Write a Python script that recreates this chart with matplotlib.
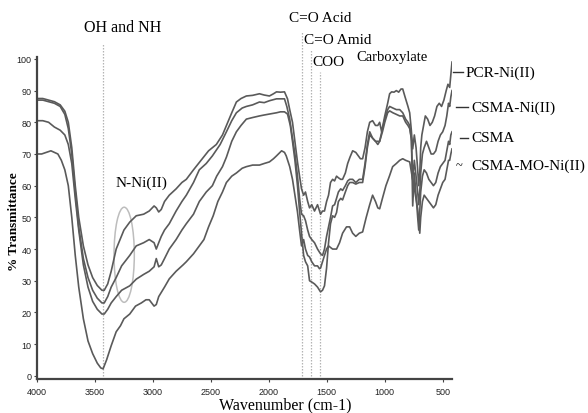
#!/usr/bin/env python3
"""
FTIR spectra of CSMA and its Ni(II) complexes, redrawn from the reference figure.
"""

import matplotlib
matplotlib.use("Agg")
import matplotlib.pyplot as plt
from matplotlib.patches import Ellipse

# --- Data --------------------------------------------------------------------

PCR_WN = [4000, 3950, 3900, 3850, 3800, 3760, 3730, 3700, 3670, 3640, 3600, 3560, 3520, 3480,
          3440, 3420, 3390, 3360, 3317, 3250, 3200, 3144, 3080, 3032, 2990, 2971, 2950, 2928,
          2900, 2859, 2800, 2750, 2712, 2650, 2574, 2520, 2487, 2453, 2400, 2366, 2320, 2280,
          2240, 2194, 2140, 2081, 2040, 1995, 1960, 1934, 1900, 1865, 1839, 1820, 1796, 1775,
          1753, 1735, 1718, 1700, 1684, 1665, 1649, 1630, 1606, 1580, 1563, 1554, 1537, 1520,
          1502, 1485, 1468, 1450, 1433, 1416, 1400, 1380, 1364, 1340, 1320, 1300, 1277, 1250,
          1230, 1210, 1191, 1170, 1150, 1130, 1105, 1080, 1060, 1044, 1027, 1000, 975, 958,
          941, 920, 900, 880, 860, 845, 825, 800, 785, 772, 759, 745, 730, 716, 707, 698, 690,
          680, 665, 650, 630, 610, 590, 570, 550, 530, 510, 490, 470, 455, 440, 430, 420]
PCR_T = [87.5, 87.5, 87, 86.5, 85.5, 83.5, 80, 72, 60, 50, 41, 35, 31, 28.5,
         27, 27, 29, 33, 40, 46, 48.5, 50.5, 51, 52, 53.6, 53, 51.7, 52.5,
         55, 57, 59, 61, 62, 65, 68.5, 71, 72, 73, 76, 79, 83, 86.4,
         87.5, 88.3, 88.5, 89, 88.6, 88.3, 89, 89.6, 89.5, 89.6, 87.4, 84, 80, 74,
         67.5, 63, 59, 57, 58, 55, 53, 54, 52, 54, 52, 51, 52, 52,
         55, 57, 61, 62, 61.5, 63, 62.5, 62, 62, 64, 67, 69, 71, 70.5,
         69.5, 68.5, 68.5, 72, 77, 80, 80.5, 79, 79, 80, 77, 82, 86, 89,
         89.6, 89.5, 90, 89.5, 90.5, 90.5, 88, 85, 83, 78, 71.6, 76, 72, 65, 60, 64, 72,
         76, 79, 82, 81, 79, 80, 82, 85, 86, 85, 87, 90, 92, 91, 95, 99]

CSMA_NI_WN = [4000, 3950, 3900, 3850, 3800, 3760, 3730, 3700, 3670, 3640, 3600, 3560, 3520,
              3480, 3440, 3420, 3390, 3360, 3317, 3270, 3200, 3144, 3080, 3032, 2990, 2971,
              2950, 2928, 2900, 2859, 2800, 2750, 2712, 2650, 2600, 2540, 2487, 2420, 2366,
              2320, 2280, 2230, 2194, 2140, 2081, 2040, 1995, 1934, 1900, 1865, 1845, 1820,
              1800, 1775, 1753, 1735, 1718, 1700, 1684, 1665, 1649, 1630, 1606, 1580, 1563,
              1554, 1537, 1520, 1502, 1485, 1468, 1450, 1433, 1416, 1400, 1380, 1364, 1340,
              1320, 1303, 1277, 1250, 1220, 1191, 1170, 1150, 1130, 1105, 1080, 1060, 1044,
              1020, 1000, 975, 958, 930, 900, 871, 845, 820, 800, 785, 770, 759, 745, 730,
              716, 707, 698, 690, 675, 660, 640, 620, 600, 580, 560, 540, 520, 500, 480, 465,
              450, 440, 430, 420]
CSMA_NI_T = [87, 87, 86.5, 86, 85, 82.5, 78, 70, 58, 47, 37, 31, 27,
             24.5, 23, 23, 25, 28, 31, 34.7, 38, 41, 42, 43, 42, 40,
             42, 44, 46, 48, 52, 55, 57, 61, 65, 67, 69.4, 73, 77,
             80.5, 83, 84.5, 85, 85.5, 86.4, 86.2, 86.8, 87.4, 87.4, 87.4, 85, 81,
             76, 70, 63, 56, 51, 50.5, 49, 46, 44, 43, 42, 40, 39,
             38.5, 38, 40, 44, 47, 50, 53.6, 54, 56, 58, 59, 58.5, 60,
             61.5, 62, 62, 61, 62, 62, 67, 73, 77, 75, 74, 73, 74,
             78, 81, 84, 85, 84.5, 84, 84, 83, 81, 80, 79, 74, 62, 68, 63,
             58, 54, 58, 64, 70, 72, 74, 72, 70, 70, 71, 74, 76, 77, 79, 82,
             86, 85, 88, 90]

CSMA_WN = [4000, 3950, 3900, 3850, 3800, 3760, 3730, 3700, 3670, 3640, 3600, 3560, 3520, 3480,
           3440, 3420, 3390, 3360, 3317, 3270, 3200, 3144, 3080, 3032, 2990, 2971, 2950, 2928,
           2900, 2859, 2800, 2750, 2712, 2650, 2600, 2540, 2487, 2450, 2400, 2366, 2320, 2280,
           2240, 2194, 2140, 2081, 2040, 1995, 1934, 1900, 1865, 1839, 1815, 1796, 1775, 1753,
           1735, 1718, 1700, 1684, 1665, 1649, 1630, 1606, 1580, 1563, 1554, 1537, 1520, 1502,
           1485, 1468, 1450, 1433, 1416, 1400, 1380, 1364, 1340, 1320, 1303, 1277, 1250, 1220,
           1191, 1170, 1150, 1130, 1105, 1080, 1060, 1044, 1020, 1000, 975, 958, 930, 900, 871,
           845, 820, 800, 785, 770, 759, 745, 730, 716, 707, 698, 690, 675, 660, 640, 620, 600,
           580, 560, 540, 520, 500, 480, 465, 450, 440, 430, 420]
CSMA_T = [80.5, 80.5, 80, 78.5, 77.5, 76, 73, 67, 56, 46, 35, 28, 23.5, 21,
          19.5, 19.5, 21, 23, 25, 27, 28.4, 30.5, 32, 33, 34.4, 37, 34.4, 35,
          37, 40, 43, 46, 48, 51, 55, 58, 60, 63, 66, 69, 74, 77,
          79, 81, 81.5, 82, 82.3, 82.6, 83, 83.3, 83.3, 82.6, 79, 74, 68, 60,
          52, 45, 38, 36, 34.7, 30, 29.6, 29, 28, 27, 26.5, 27, 28.4, 34,
          42, 48, 50.5, 50, 51.5, 55, 56, 55.5, 58, 60, 61, 61, 60.5, 61,
          61, 66, 72, 76, 75, 74, 74, 74, 77, 80, 83, 83.6, 83, 82.5, 82,
          82, 80, 79, 78, 75, 53.6, 64, 57, 50, 46, 52, 58, 63, 65, 64, 62, 61,
          60, 61, 64, 66, 67, 68, 71, 74, 73, 76, 77]

CSMA_MO_WN = [4000, 3960, 3920, 3880, 3850, 3820, 3790, 3760, 3730, 3700, 3670, 3640, 3600,
              3560, 3520, 3480, 3450, 3430, 3400, 3360, 3317, 3280, 3250, 3200, 3150, 3100,
              3060, 3032, 2990, 2971, 2950, 2900, 2859, 2800, 2740, 2712, 2650, 2600, 2560,
              2520, 2480, 2440, 2400, 2366, 2320, 2280, 2230, 2194, 2140, 2081, 2040, 1995,
              1960, 1934, 1890, 1865, 1850, 1820, 1796, 1775, 1753, 1735, 1718, 1700, 1684,
              1665, 1649, 1630, 1606, 1580, 1563, 1554, 1537, 1520, 1502, 1485, 1468, 1450,
              1416, 1390, 1364, 1330, 1303, 1277, 1250, 1220, 1191, 1160, 1130, 1105, 1080,
              1060, 1044, 1020, 990, 960, 932, 900, 871, 845, 820, 785, 760, 740, 716, 698,
              690, 675, 660, 640, 620, 600, 580, 560, 540, 520, 500, 480, 465, 450, 440, 430,
              420]
CSMA_MO_T = [70, 70, 70.5, 71, 70.5, 70, 68, 65, 60, 50, 38, 28, 18,
             11, 7, 4, 2.5, 2.2, 5, 9.5, 13.9, 15.8, 18, 19.5, 22, 23,
             24, 24, 22, 22.5, 25, 28, 30.6, 33, 35, 36, 38.5, 41, 43,
             47, 50.5, 55, 58, 61, 63, 64, 65.5, 66, 66.5, 66.5, 67, 67.5,
             68.5, 69.4, 71, 70.5, 69.4, 66, 62, 57, 51.7, 46, 41, 43, 40,
             38, 37.5, 36, 34.7, 34.7, 33.8, 34, 36, 38, 40, 41, 40.5, 40,
             40, 42, 45, 47, 47, 45, 44, 45, 45.4, 50, 54, 57, 55,
             53, 52.7, 56, 60, 63, 66, 67, 68, 68.5, 68, 67.5, 62, 58, 52.7, 45,
             50, 55, 57, 56, 55, 54, 53, 54, 57, 59, 61, 62, 65, 68, 68, 70,
             71.6]

# band markers: (wavenumber, top of the dotted line in %T)
BAND_WN = [3430, 1710, 1640, 1563]
BAND_TOP = [104.7, 108.8, 103, 96]

X_TICKS = [4000, 3500, 3000, 2500, 2000, 1500, 1000, 500]
Y_TICKS = [0, 10, 20, 30, 40, 50, 60, 70, 80, 90, 100]

LINE_COLOR = "#5a5a5a"
GUIDE_COLOR = "#b4b4b4"
SERIF = ["Liberation Serif", "DejaVu Serif"]
NARROW = ["Liberation Sans Narrow", "Liberation Sans", "DejaVu Sans"]


def fig_xy(px, py):
    """Reference pixel position -> figure fraction."""
    return px / 588.0, 1 - py / 414.0


def main():
    fig = plt.figure(figsize=(5.88, 4.14), dpi=100)
    ax = fig.add_axes([37 / 588, 1 - 380 / 414, (452 - 37) / 588, (380 - 58) / 414])

    for wn, t in [(PCR_WN, PCR_T), (CSMA_NI_WN, CSMA_NI_T),
                  (CSMA_WN, CSMA_T), (CSMA_MO_WN, CSMA_MO_T)]:
        ax.plot(wn, t, color=LINE_COLOR, lw=1.2, solid_joinstyle="round")

    for wn, top in zip(BAND_WN, BAND_TOP):
        ax.plot([wn, wn], [-1, top], color=GUIDE_COLOR, lw=0.9, ls=(0, (1.2, 1.2)),
                clip_on=False, zorder=0)

    ax.add_patch(Ellipse((3248, 38.2), 175, 30, fill=False, ec="#bdbdbd", lw=1.1))

    ax.set_xlim(4000, 420)
    ax.set_ylim(-1, 100.6)
    ax.set_xticks(X_TICKS)
    ax.set_yticks(Y_TICKS)
    ax.set_xticklabels([str(v) for v in X_TICKS], family=NARROW, fontsize=6.5)
    ax.set_yticklabels([str(v) for v in Y_TICKS], family=NARROW, fontsize=6.5)
    ax.tick_params(length=2, width=0.8, color="#444444", pad=2, labelcolor="#222222")
    ax.tick_params(axis="x", pad=4)

    for side in ("top", "right"):
        ax.spines[side].set_visible(False)
    for side in ("left", "bottom"):
        ax.spines[side].set_color("#444444")
        ax.spines[side].set_linewidth(1.6)

    # axis titles
    fig.text(*fig_xy(285, 405), "Wavenumber (cm-1)", family=SERIF, fontsize=11.5,
             ha="center", va="center")
    fig.text(*fig_xy(14, 222), "% Transmittance", family=SERIF, fontsize=9.5,
             fontweight="bold", rotation=90, ha="center", va="center")

    # band annotations
    notes = [
        (84, 28, "OH and NH", 11.5),
        (289, 18, "C=O Acid", 11),
        (304, 40, "C=O Amid", 11),
        (312, 62, "COO", 11),
        (356, 58, "Carboxylate", 10.5),
        (116, 183, "N-Ni(II)", 11),
    ]
    for px, py, txt, size in notes:
        fig.text(*fig_xy(px, py), txt, family=SERIF, fontsize=size,
                 ha="left", va="center")

    # curve labels with short leader marks
    labels = [
        (453, 463, 73, "PCR-Ni(II)"),
        (456, 468, 108, "CSMA-Ni(II)"),
        (460, 468, 139, "CSMA"),
    ]
    for x0, x1, py, txt in labels:
        a = fig_xy(x0, py)
        b = fig_xy(x1, py)
        fig.add_artist(plt.Line2D([a[0], b[0]], [a[1], b[1]], color="#333333", lw=1.0))
        fig.text(*fig_xy(x1 + 3, py), txt, family=SERIF, fontsize=11,
                 ha="left", va="center")
    fig.text(*fig_xy(456, 166), "~", family=SERIF, fontsize=9, ha="left", va="center")
    fig.text(*fig_xy(471, 166), "CSMA-MO-Ni(II)", family=SERIF, fontsize=11,
             ha="left", va="center")

    fig.savefig("out.png", dpi=100)
    plt.close(fig)


if __name__ == "__main__":
    main()
